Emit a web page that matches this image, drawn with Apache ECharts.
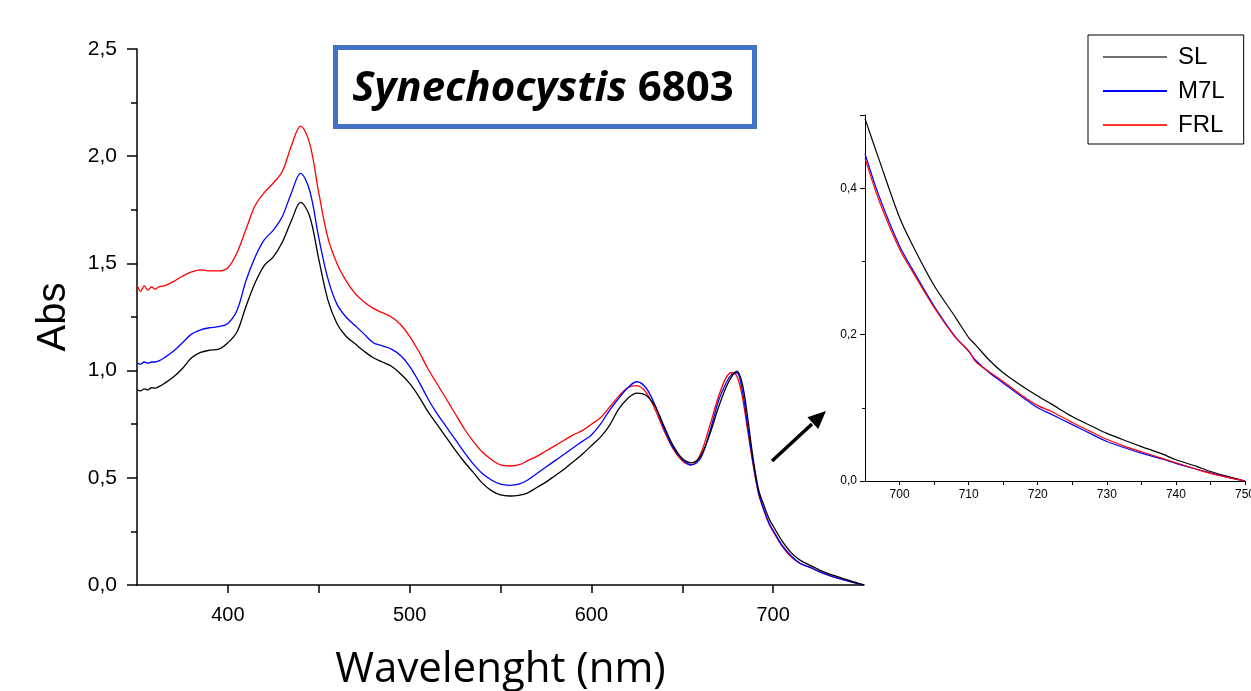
<!DOCTYPE html>
<html>
<head>
<meta charset="utf-8">
<script src="https://cdn.jsdelivr.net/npm/echarts@6/dist/echarts.min.js"></script>
<style>
  html, body { margin: 0; padding: 0; background: #fff; }
  #main { width: 1251px; height: 691px; }
</style>
</head>
<body>
<div id="main"></div>
<script>
// wavelength grid (nm), shared by the three main spectra
const wavelengths = [350, 352, 354, 356, 358, 360, 362, 365, 370, 375, 380, 385, 390, 395, 400, 405, 410, 415, 420, 425,
  430, 435, 440, 445, 450, 455, 460, 465, 470, 475, 480, 485, 490, 495, 500, 505, 510, 515, 520, 525,
  530, 535, 540, 545, 550, 555, 560, 565, 570, 575, 580, 585, 590, 595, 600, 605, 610, 615, 620, 625,
  630, 635, 640, 645, 650, 655, 660, 665, 670, 674, 677, 680, 683, 686, 689, 692, 695, 698, 700, 705,
  710, 715, 720, 725, 730, 735, 740, 745, 750];

const slAbs = [0.91, 0.905, 0.915, 0.91, 0.92, 0.918, 0.925, 0.94, 0.97, 1.01, 1.06, 1.085, 1.095, 1.10, 1.13, 1.18, 1.30, 1.41, 1.49, 1.53,
  1.60, 1.70, 1.785, 1.72, 1.52, 1.33, 1.22, 1.16, 1.125, 1.09, 1.06, 1.04, 1.02, 0.985, 0.94, 0.88, 0.81, 0.75, 0.69, 0.63,
  0.575, 0.525, 0.475, 0.44, 0.42, 0.415, 0.418, 0.43, 0.455, 0.48, 0.51, 0.54, 0.575, 0.61, 0.65, 0.69, 0.745, 0.82, 0.87, 0.895,
  0.885, 0.835, 0.74, 0.65, 0.59, 0.57, 0.60, 0.70, 0.83, 0.92, 0.97, 0.998, 0.94, 0.78, 0.59, 0.445, 0.37, 0.305, 0.275, 0.205,
  0.15, 0.115, 0.093, 0.072, 0.054, 0.04, 0.026, 0.013, 0.0];

const m7lAbs = [1.035, 1.03, 1.04, 1.035, 1.04, 1.04, 1.045, 1.06, 1.09, 1.13, 1.17, 1.19, 1.20, 1.205, 1.22, 1.28, 1.42, 1.53, 1.61, 1.655,
  1.72, 1.83, 1.92, 1.84, 1.62, 1.43, 1.31, 1.25, 1.21, 1.17, 1.13, 1.115, 1.10, 1.07, 1.02, 0.95, 0.87, 0.80, 0.74, 0.68,
  0.62, 0.565, 0.52, 0.49, 0.47, 0.465, 0.47, 0.49, 0.52, 0.55, 0.58, 0.61, 0.64, 0.67, 0.70, 0.75, 0.815, 0.87, 0.92, 0.948,
  0.92, 0.84, 0.73, 0.64, 0.585, 0.56, 0.59, 0.71, 0.86, 0.94, 0.98, 0.99, 0.91, 0.74, 0.57, 0.43, 0.35, 0.285, 0.255, 0.185,
  0.135, 0.10, 0.083, 0.064, 0.047, 0.033, 0.021, 0.01, 0.0];

const frlAbs = [1.40, 1.37, 1.395, 1.375, 1.39, 1.38, 1.39, 1.395, 1.415, 1.44, 1.46, 1.47, 1.465, 1.465, 1.48, 1.55, 1.66, 1.77, 1.83, 1.875,
  1.93, 2.05, 2.14, 2.06, 1.83, 1.62, 1.50, 1.42, 1.36, 1.32, 1.29, 1.27, 1.25, 1.215, 1.16, 1.09, 1.01, 0.94, 0.87, 0.80,
  0.73, 0.67, 0.62, 0.585, 0.56, 0.555, 0.56, 0.58, 0.60, 0.625, 0.65, 0.675, 0.70, 0.72, 0.75, 0.78, 0.83, 0.88, 0.92, 0.93,
  0.90, 0.82, 0.72, 0.635, 0.58, 0.56, 0.61, 0.74, 0.88, 0.965, 0.99, 0.975, 0.88, 0.72, 0.56, 0.425, 0.345, 0.28, 0.25, 0.18,
  0.13, 0.10, 0.083, 0.064, 0.047, 0.033, 0.021, 0.01, 0.0];

// inset: 695-750 nm tail
const insetNm = [695, 697, 700, 702, 705, 708, 710, 711, 713, 715, 718, 720, 722, 725, 728, 730, 733, 735, 738, 740, 743, 745, 748, 750];
const insetSl = [0.495, 0.44, 0.36, 0.32, 0.267, 0.225, 0.196, 0.186, 0.165, 0.148, 0.128, 0.116, 0.105, 0.088, 0.074, 0.065, 0.054, 0.047, 0.037, 0.029, 0.02, 0.013, 0.005, 0.0];
const insetM7l = [0.447, 0.39, 0.321, 0.287, 0.239, 0.198, 0.177, 0.165, 0.148, 0.134, 0.113, 0.10, 0.091, 0.077, 0.063, 0.054, 0.044, 0.038, 0.030, 0.024, 0.016, 0.011, 0.004, 0.0];
const insetFrl = [0.441, 0.384, 0.317, 0.284, 0.237, 0.197, 0.178, 0.163, 0.149, 0.136, 0.115, 0.103, 0.095, 0.080, 0.066, 0.057, 0.046, 0.040, 0.031, 0.025, 0.016, 0.0105, 0.004, 0.0];

const seriesNames = ['SL', 'M7L', 'FRL'];
const seriesColors = ['#000000', '#0000ff', '#ff0000'];

const pairs = (xs, ys) => xs.map((x, i) => [x, ys[i]]);
const comma = v => v.toFixed(1).replace('.', ',');

const chart = echarts.init(document.getElementById('main'));

const mainData = [slAbs, m7lAbs, frlAbs];
const insetData = [insetSl, insetM7l, insetFrl];

const series = [];
seriesNames.forEach((name, i) => {
  series.push({
    name,
    type: 'line',
    xAxisIndex: 0,
    yAxisIndex: 0,
    symbol: 'none',
    smooth: 0.35,
    data: pairs(wavelengths, mainData[i]),
    lineStyle: { color: seriesColors[i], width: 1.3 },
    itemStyle: { color: seriesColors[i] },
    z: 3 - i,
  });
  series.push({
    name,
    type: 'line',
    xAxisIndex: 1,
    yAxisIndex: 1,
    symbol: 'none',
    smooth: 0.3,
    data: pairs(insetNm, insetData[i]),
    lineStyle: { color: seriesColors[i], width: 1.2 },
    itemStyle: { color: seriesColors[i] },
  });
});

chart.setOption({
  animation: false,
  backgroundColor: '#fff',
  grid: [
    { left: 137, top: 49, width: 727, height: 536, outerBoundsMode: 'none', containLabel: false },
    { left: 865, top: 115, width: 380, height: 366, outerBoundsMode: 'none', containLabel: false },
  ],
  xAxis: [
    {
      gridIndex: 0,
      type: 'value',
      min: 350,
      max: 750,
      interval: 50,
      name: 'Wavelenght (nm)',
      nameLocation: 'middle',
      nameGap: 64,
      nameTextStyle: { fontFamily: 'Open Sans', fontSize: 42, color: '#000' },
      axisLine: { lineStyle: { color: '#000', width: 1.5 } },
      axisTick: { length: 8, lineStyle: { color: '#000', width: 1.5 } },
      axisLabel: {
        margin: 20,
        fontFamily: 'Liberation Sans',
        fontSize: 20,
        color: '#000',
        showMinLabel: false,
        showMaxLabel: false,
        formatter: v => (v % 100 === 0 ? String(v) : ''),
      },
      splitLine: { show: false },
    },
    {
      gridIndex: 1,
      type: 'value',
      min: 695,
      max: 750,
      interval: 5,
      axisLine: { lineStyle: { color: '#000', width: 1 } },
      axisTick: { length: 4, lineStyle: { color: '#000' } },
      axisLabel: {
        margin: 8,
        fontFamily: 'Liberation Sans Narrow, Liberation Sans',
        fontSize: 12,
        color: '#000',
        showMinLabel: false,
        formatter: v => (v % 10 === 0 ? String(v) : ''),
      },
      splitLine: { show: false },
    },
  ],
  yAxis: [
    {
      gridIndex: 0,
      type: 'value',
      min: 0,
      max: 2.5,
      interval: 0.5,
      name: 'Abs',
      nameLocation: 'middle',
      nameGap: 63,
      nameTextStyle: { fontFamily: 'Liberation Sans', fontSize: 40, color: '#000' },
      axisLine: { show: true, lineStyle: { color: '#000', width: 1.5 } },
      axisTick: { show: true, length: 10, lineStyle: { color: '#000', width: 1.5 } },
      minorTick: { show: true, splitNumber: 2, length: 6, lineStyle: { color: '#000', width: 1.5 } },
      axisLabel: { margin: 20, fontFamily: 'Liberation Sans', fontSize: 21, color: '#000', formatter: comma },
      splitLine: { show: false },
    },
    {
      gridIndex: 1,
      type: 'value',
      min: 0,
      max: 0.5,
      interval: 0.2,
      axisLine: { show: true, lineStyle: { color: '#000', width: 1 } },
      axisTick: { show: true, length: 5, lineStyle: { color: '#000' } },
      minorTick: { show: true, splitNumber: 2, length: 3, lineStyle: { color: '#000' } },
      axisLabel: {
        margin: 8,
        fontFamily: 'Liberation Sans Narrow, Liberation Sans',
        fontSize: 12,
        color: '#000',
        showMaxLabel: false,
        formatter: comma,
      },
      splitLine: { show: false },
    },
  ],
  legend: {
    orient: 'vertical',
    left: 1088,
    top: 35,
    padding: [8, 19, 5, 15],
    itemGap: 6,
    itemWidth: 64,
    itemHeight: 2,
    icon: 'rect',
    borderColor: '#000',
    borderWidth: 1,
    textStyle: { fontFamily: 'Liberation Sans', fontSize: 24, color: '#000', lineHeight: 28, padding: [0, 0, 0, 6] },
    data: [
      { name: 'SL', itemStyle: { color: '#707070' } },
      { name: 'M7L', itemStyle: { color: '#0000ff' } },
      { name: 'FRL', itemStyle: { color: '#ff3333' } },
    ],
  },
  graphic: [
    {
      type: 'rect',
      shape: { x: 335.5, y: 47.5, width: 419, height: 79 },
      style: { fill: '#fff', stroke: '#4472c4', lineWidth: 5 },
      z: 10,
    },
    {
      type: 'text',
      x: 543,
      y: 89,
      z: 11,
      style: {
        text: '{i|Synechocystis}{b| 6803}',
        align: 'center',
        verticalAlign: 'middle',
        rich: {
          i: { fontFamily: 'Open Sans', fontSize: 42, fontWeight: 'bold', fontStyle: 'italic', fill: '#000' },
          b: { fontFamily: 'Open Sans', fontSize: 42, fontWeight: 'bold', fill: '#000' },
        },
      },
    },
    // arrow pointing to the inset
    {
      type: 'line',
      shape: { x1: 772, y1: 461, x2: 812, y2: 424 },
      style: { stroke: '#000', lineWidth: 3.5 },
      z: 10,
    },
    {
      type: 'polygon',
      shape: { points: [[826, 411], [818.2, 429.1], [807.4, 417.3]] },
      style: { fill: '#000' },
      z: 10,
    },
  ],
  series,
});
</script>
</body>
</html>
